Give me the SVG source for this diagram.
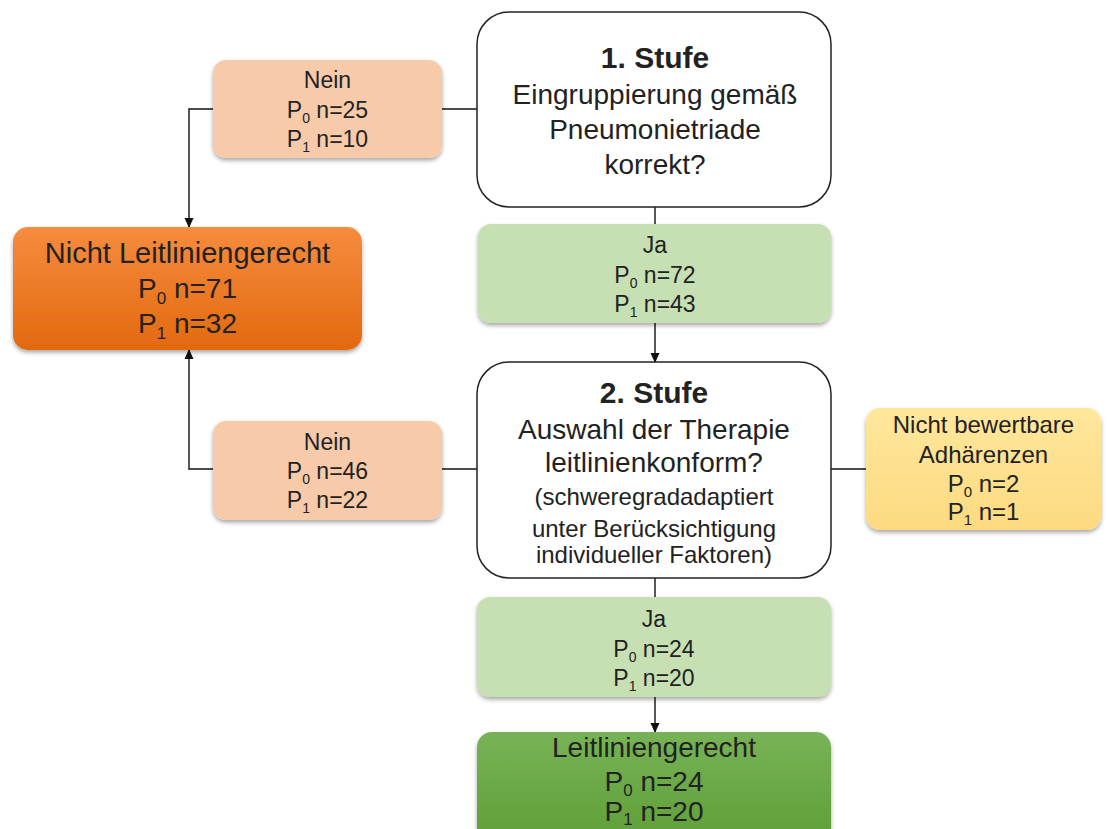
<svg xmlns="http://www.w3.org/2000/svg" width="1107" height="829" viewBox="0 0 1107 829">
<style>
text{font-family:"Liberation Sans",Arial,sans-serif;fill:#222;text-anchor:middle}
.t1{font-size:23px}
.big{font-size:28px}
.q{font-size:28px}
.qs{font-size:24px}
.ttl{font-size:30px;font-weight:bold}
.dec{fill:#fff;stroke:#222;stroke-width:1.5}
.peach{fill:#F7CBAA}
.lg{fill:#C6E0B4}
.conn line,.conn path{stroke:#111;stroke-width:1.4;fill:none}
</style>
<defs>
<filter id="sh" x="-10%" y="-15%" width="120%" height="140%">
<feDropShadow dx="0" dy="2.5" stdDeviation="2" flood-color="#000" flood-opacity="0.35"/>
</filter>
<linearGradient id="gOr" x1="0" y1="0" x2="0" y2="1"><stop offset="0" stop-color="#F68C3E"/><stop offset="1" stop-color="#E2690F"/></linearGradient>
<linearGradient id="gGr" x1="0" y1="0" x2="0" y2="1"><stop offset="0" stop-color="#77B356"/><stop offset="1" stop-color="#5C9C34"/></linearGradient>
<linearGradient id="gYe" x1="0" y1="0" x2="0" y2="1"><stop offset="0" stop-color="#FFE79C"/><stop offset="1" stop-color="#FDDA80"/></linearGradient>
<marker id="arr" markerWidth="10" markerHeight="10" refX="9" refY="5" orient="auto" markerUnits="userSpaceOnUse">
<path d="M0,0.5 L10,5 L0,9.5 Z" fill="#111"/>
</marker>
</defs>

<g id="connectors" class="conn">
<line x1="442" y1="109" x2="477" y2="109"/>
<path d="M213,109 H189 V227" marker-end="url(#arr)"/>
<line x1="655" y1="207" x2="655" y2="224"/>
<line x1="655" y1="323" x2="655" y2="362" marker-end="url(#arr)"/>
<line x1="442" y1="469" x2="477" y2="469"/>
<path d="M213,469 H189 V350" marker-end="url(#arr)"/>
<line x1="831" y1="469" x2="866" y2="469"/>
<line x1="655" y1="578" x2="655" y2="597"/>
<line x1="655" y1="697" x2="655" y2="732" marker-end="url(#arr)"/>
</g>

<g id="stufe1">
<rect class="dec" x="477" y="12" width="354" height="195" rx="32"/>
<text class="ttl" x="655" y="68">1. Stufe</text>
<text class="q" x="655" y="104">Eingruppierung gemäß</text>
<text class="q" x="655" y="139">Pneumonietriade</text>
<text class="q" x="655" y="174">korrekt?</text>
</g>

<g id="nein1">
<rect class="peach" x="213" y="60" width="229" height="98" rx="13" filter="url(#sh)"/>
<text class="t1" x="327.5" y="88">Nein</text>
<text class="t1" x="327.5" y="118">P<tspan font-size="14" dy="5">0</tspan><tspan dy="-5"> n=25</tspan></text>
<text class="t1" x="327.5" y="147">P<tspan font-size="14" dy="5">1</tspan><tspan dy="-5"> n=10</tspan></text>
</g>

<g id="nicht-leitliniengerecht">
<rect fill="url(#gOr)" x="13" y="227" width="349" height="123" rx="15" filter="url(#sh)"/>
<text class="big" x="187.5" y="263" style="font-size:29px">Nicht Leitliniengerecht</text>
<text class="big" x="187.5" y="298">P<tspan font-size="17" dy="6">0</tspan><tspan dy="-6"> n=71</tspan></text>
<text class="big" x="187.5" y="333">P<tspan font-size="17" dy="6">1</tspan><tspan dy="-6"> n=32</tspan></text>
</g>

<g id="ja1">
<rect class="lg" x="478" y="224" width="353" height="99" rx="13" filter="url(#sh)"/>
<text class="t1" x="655" y="253">Ja</text>
<text class="t1" x="655" y="283">P<tspan font-size="14" dy="5">0</tspan><tspan dy="-5"> n=72</tspan></text>
<text class="t1" x="655" y="312">P<tspan font-size="14" dy="5">1</tspan><tspan dy="-5"> n=43</tspan></text>
</g>

<g id="stufe2">
<rect class="dec" x="477" y="362" width="354" height="216" rx="32"/>
<text class="ttl" x="654" y="403">2. Stufe</text>
<text class="q" x="654" y="439">Auswahl der Therapie</text>
<text class="q" x="654" y="472">leitlinienkonform?</text>
<text class="qs" x="654" y="505">(schweregradadaptiert</text>
<text class="qs" x="654" y="537">unter  Berücksichtigung</text>
<text class="qs" x="654" y="563">individueller Faktoren)</text>
</g>

<g id="nein2">
<rect class="peach" x="213" y="421" width="229" height="99" rx="13" filter="url(#sh)"/>
<text class="t1" x="327.5" y="450">Nein</text>
<text class="t1" x="327.5" y="479">P<tspan font-size="14" dy="5">0</tspan><tspan dy="-5"> n=46</tspan></text>
<text class="t1" x="327.5" y="508">P<tspan font-size="14" dy="5">1</tspan><tspan dy="-5"> n=22</tspan></text>
</g>

<g id="nicht-bewertbar">
<rect fill="url(#gYe)" x="866" y="408" width="235" height="122" rx="14" filter="url(#sh)"/>
<text class="qs" x="983.5" y="433">Nicht bewertbare</text>
<text class="qs" x="983.5" y="463">Adhärenzen</text>
<text class="qs" x="983.5" y="492">P<tspan font-size="15" dy="5">0</tspan><tspan dy="-5"> n=2</tspan></text>
<text class="qs" x="983.5" y="520">P<tspan font-size="15" dy="5">1</tspan><tspan dy="-5"> n=1</tspan></text>
</g>

<g id="ja2">
<rect class="lg" x="477" y="597" width="354" height="100" rx="13" filter="url(#sh)"/>
<text class="t1" x="654" y="627">Ja</text>
<text class="t1" x="654" y="657">P<tspan font-size="14" dy="5">0</tspan><tspan dy="-5"> n=24</tspan></text>
<text class="t1" x="654" y="686">P<tspan font-size="14" dy="5">1</tspan><tspan dy="-5"> n=20</tspan></text>
</g>

<g id="leitliniengerecht">
<rect fill="url(#gGr)" x="477" y="732" width="354" height="125" rx="15" filter="url(#sh)"/>
<text class="big" x="654" y="757">Leitliniengerecht</text>
<text class="big" x="654" y="791">P<tspan font-size="17" dy="5">0</tspan><tspan dy="-5"> n=24</tspan></text>
<text class="big" x="654" y="821">P<tspan font-size="17" dy="4">1</tspan><tspan dy="-4"> n=20</tspan></text>
</g>
</svg>
